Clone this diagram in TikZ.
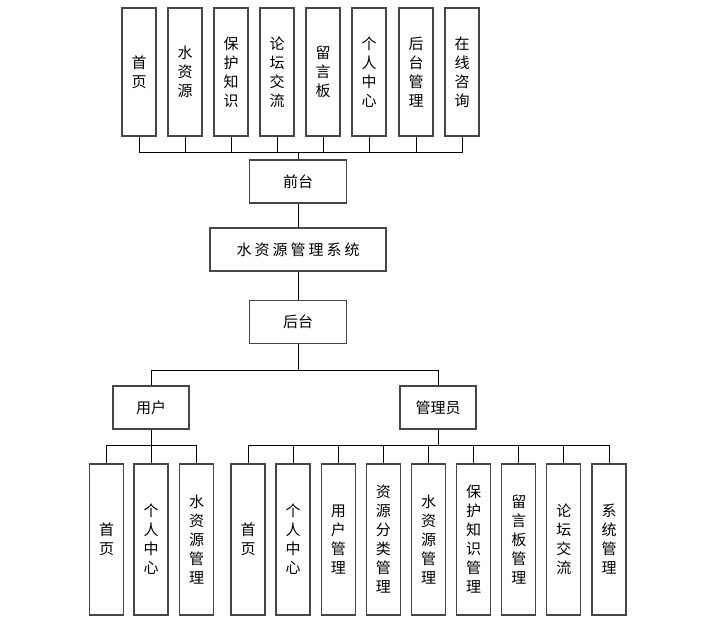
\documentclass[tikz,border=0pt]{standalone}
\usepackage{fontspec}
\newfontfamily\cjk{Noto Sans CJK SC}
\usepackage{tikz}
\usetikzlibrary{positioning}
\definecolor{boxgray}{RGB}{70,70,70}

\begin{document}
\begin{tikzpicture}[x=1pt,y=-1pt,
  box/.style={rectangle,draw=boxgray,fill=white,line width=1.1pt,inner sep=0pt,
    font=\cjk\fontsize{15}{19}\selectfont,align=center},
  vbox/.style={box,minimum width=34pt,minimum height=#1},
  hbox/.style={box,minimum height=43pt},
  link/.style={black,line width=1pt}]
\useasboundingbox (0,0) rectangle (727,627);
% Front end pages
\node[vbox=128pt] (q1) at (139,72) {首\\页};
\node[vbox=128pt] (q2) at (185,72) {水\\资\\源};
\node[vbox=128pt] (q3) at (231,72) {保\\护\\知\\识};
\node[vbox=128pt] (q4) at (277,72) {论\\坛\\交\\流};
\node[vbox=128pt] (q5) at (323,72) {留\\言\\板};
\node[vbox=128pt] (q6) at (369,72) {个\\人\\中\\心};
\node[vbox=128pt] (q7) at (416,72) {后\\台\\管\\理};
\node[vbox=128pt] (q8) at (462,72) {在\\线\\咨\\询};
% Middle column
\node[hbox,minimum width=97pt] (qiantai) at (298,181.5) {前台};
\node[hbox,minimum width=176pt,font=\cjk\fontsize{15}{19}\selectfont\addfontfeature{LetterSpace=20}]
  (xitong) at (298,249.5) {水资源管理系统};
\node[hbox,minimum width=97pt] (houtai) at (298,322) {后台};
% Roles
\node[hbox,minimum width=76pt] (yonghu) at (151,407.5) {用户};
\node[hbox,minimum width=76pt] (guanli) at (438,407.5) {管理员};
% User pages
\node[vbox=151pt] (u1) at (106.5,539.5) {首\\页};
\node[vbox=151pt] (u2) at (151,539.5) {个\\人\\中\\心};
\node[vbox=151pt] (u3) at (196.5,539.5) {水\\资\\源\\管\\理};
% Admin pages
\node[vbox=151pt] (a1) at (248,539.5) {首\\页};
\node[vbox=151pt] (a2) at (293,539.5) {个\\人\\中\\心};
\node[vbox=151pt] (a3) at (338.3,539.5) {用\\户\\管\\理};
\node[vbox=151pt] (a4) at (383.4,539.5) {资\\源\\分\\类\\管\\理};
\node[vbox=151pt] (a5) at (428.5,539.5) {水\\资\\源\\管\\理};
\node[vbox=151pt] (a6) at (473.6,539.5) {保\\护\\知\\识\\管\\理};
\node[vbox=151pt] (a7) at (518.8,539.5) {留\\言\\板\\管\\理};
\node[vbox=151pt] (a8) at (563.9,539.5) {论\\坛\\交\\流};
\node[vbox=151pt] (a9) at (609,539.5) {系\\统\\管\\理};
% Bus points
\coordinate (qbus) at (298,152);
\coordinate (hbus) at (298,370);
\coordinate (ubus) at (151,445);
\coordinate (abus) at (438,445);
% Wires
\draw[link] (q1.south) |- (qbus);
\draw[link] (q2.south) |- (qbus);
\draw[link] (q3.south) |- (qbus);
\draw[link] (q4.south) |- (qbus);
\draw[link] (q5.south) |- (qbus);
\draw[link] (q6.south) |- (qbus);
\draw[link] (q7.south) |- (qbus);
\draw[link] (q8.south) |- (qbus);
\draw[link] (qbus) -- (qiantai.north);
\draw[link] (qiantai.south) -- (xitong.north);
\draw[link] (xitong.south) -- (houtai.north);
\draw[link] (houtai.south) -- (hbus);
\draw[link] (hbus) -| (yonghu.north);
\draw[link] (hbus) -| (guanli.north);
\draw[link] (yonghu.south) -- (ubus);
\draw[link] (ubus) -| (u1.north);
\draw[link] (ubus) -- (u2.north);
\draw[link] (ubus) -| (u3.north);
\draw[link] (guanli.south) -- (abus);
\draw[link] (abus) -| (a1.north);
\draw[link] (abus) -| (a2.north);
\draw[link] (abus) -| (a3.north);
\draw[link] (abus) -| (a4.north);
\draw[link] (abus) -| (a5.north);
\draw[link] (abus) -| (a6.north);
\draw[link] (abus) -| (a7.north);
\draw[link] (abus) -| (a8.north);
\draw[link] (abus) -| (a9.north);
\end{tikzpicture}
\end{document}
